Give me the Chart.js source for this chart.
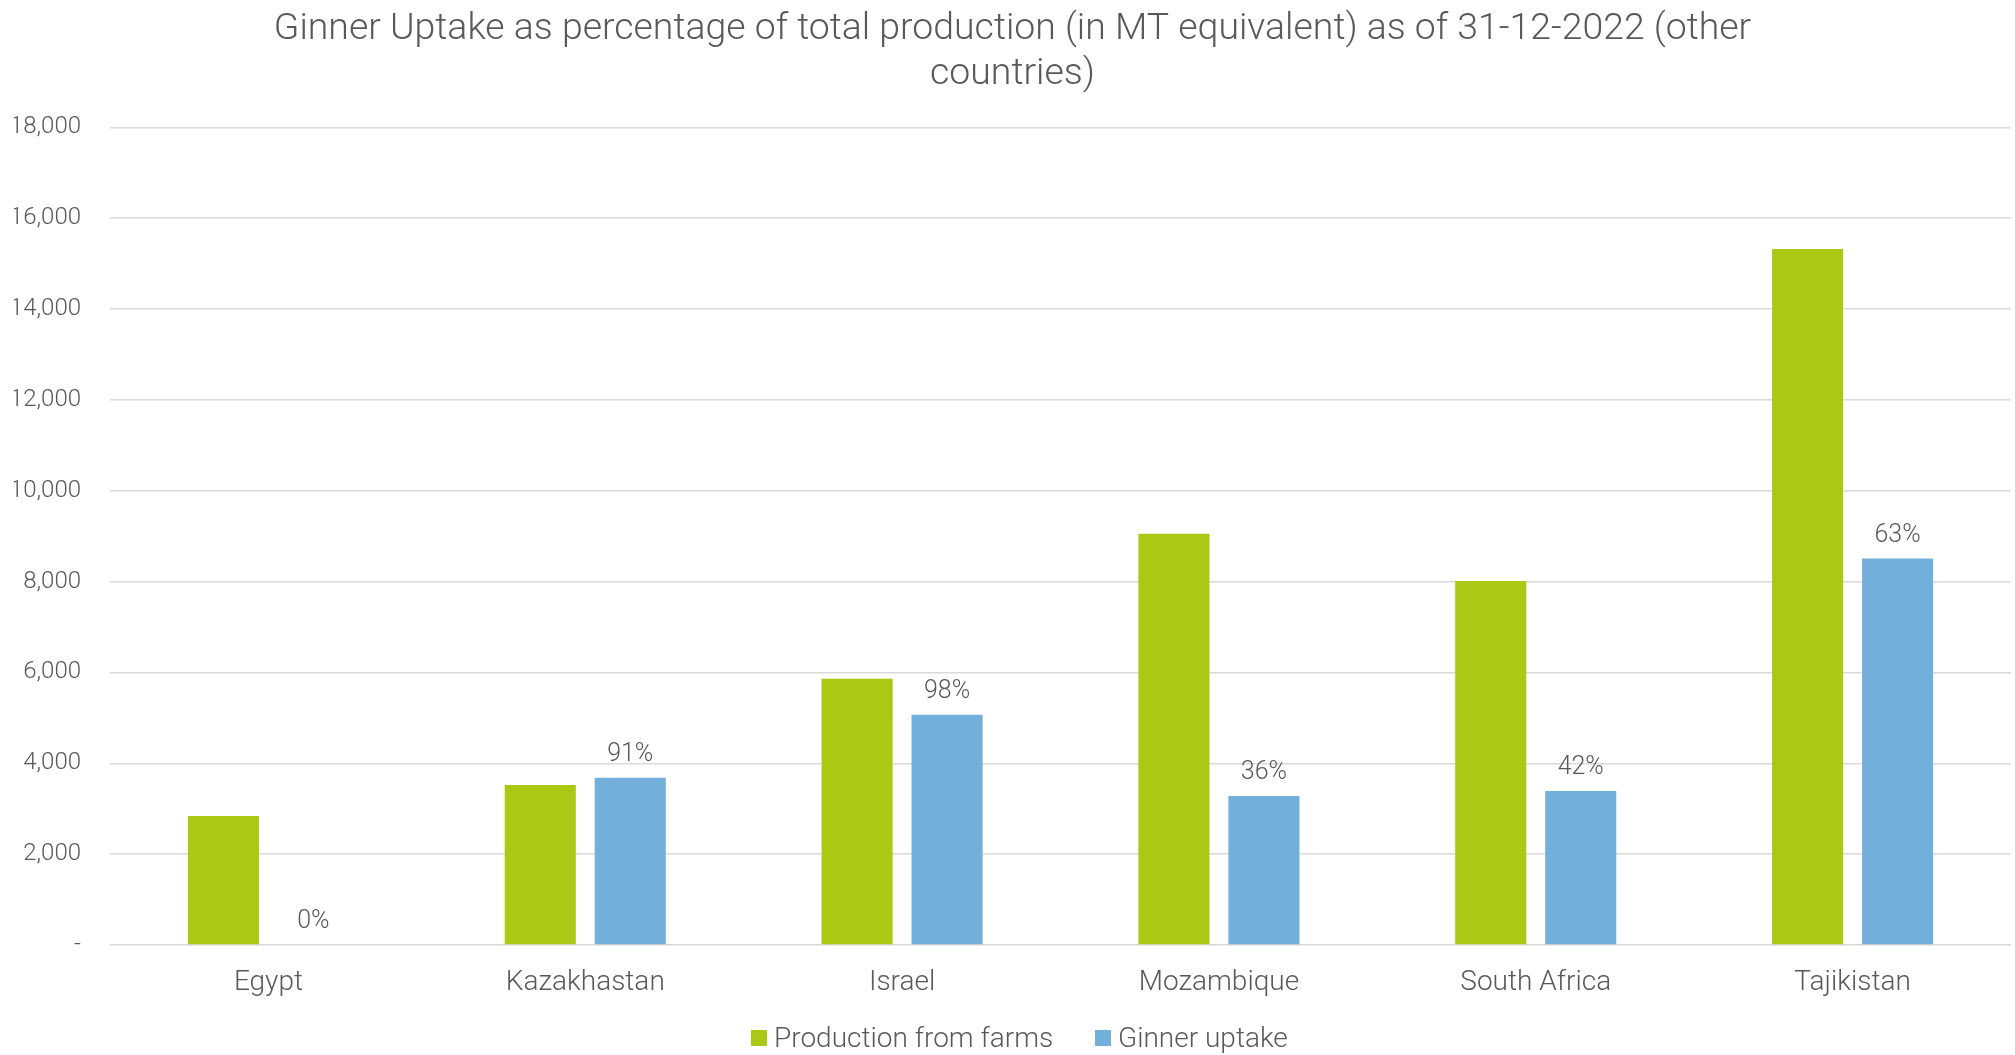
<!DOCTYPE html>
<html><head><meta charset="utf-8">
<script src="https://cdn.jsdelivr.net/npm/chart.js@4"></script>
<style>
html,body{margin:0;padding:0;background:#fff}
#wrap{width:2015px;height:1055px;position:relative}
.lg{position:absolute;top:1024px;height:28px;display:flex;align-items:center;font-family:Roboto,sans-serif;font-weight:300;font-size:28px;line-height:1;color:#595959;white-space:nowrap}
.lg i{display:inline-block;width:16px;height:16px;margin-right:7px}
</style>
</head><body><div id="wrap"><canvas id="c"></canvas><div id="legend"></div></div>
<script>
const categories = ["Egypt", "Kazakhastan", "Israel", "Mozambique", "South Africa", "Tajikistan"];
const productionFromFarms = [2840, 3520, 5860, 9050, 8010, 15320];
const ginnerUptake = [0, 3680, 5070, 3280, 3390, 8510];
const uptakeLabels = ["0%", "91%", "98%", "36%", "42%", "63%"];
const seriesNames = ["Production from farms", "Ginner uptake"];
const seriesColors = ["#aac814", "#73afdb"];
const yMax = 18000;
const yStep = 2000;
const titleLines = ["Ginner Uptake as percentage of total production (in MT equivalent) as of 31-12-2022 (other", "countries)"];

const TXT = '#595959';
const FONT = 'Roboto';

const pctLabelPlugin = {
  id: 'pctLabels',
  afterDatasetsDraw(chart) {
    const meta = chart.getDatasetMeta(1);
    const ctx = chart.ctx;
    ctx.save();
    ctx.font = '300 25px ' + FONT;
    ctx.fillStyle = TXT;
    ctx.textAlign = 'center';
    ctx.textBaseline = 'middle';
    meta.data.forEach((bar, i) => {
      ctx.fillText(uptakeLabels[i], bar.x, bar.y - 23);
    });
    ctx.restore();
  }
};

const chart = new Chart(document.getElementById('c'), {
  type: 'bar',
  data: {
    labels: categories,
    datasets: [
      { label: seriesNames[0], data: productionFromFarms, backgroundColor: seriesColors[0],
        categoryPercentage: 0.568, barPercentage: 0.79 },
      { label: seriesNames[1], data: ginnerUptake, backgroundColor: seriesColors[1],
        categoryPercentage: 0.568, barPercentage: 0.79 }
    ]
  },
  plugins: [pctLabelPlugin],
  options: {
    responsive: true,
    maintainAspectRatio: false,
    animation: false,
    layout: { padding: { left: 14, right: 4, top: 0, bottom: 40 } },
    plugins: {
      title: {
        display: true,
        text: titleLines,
        color: TXT,
        font: { family: FONT, size: 37.4, weight: '300', lineHeight: 1.18 },
        padding: { top: 8, bottom: 31 }
      },
      legend: { display: false },
      tooltip: { enabled: false }
    },
    scales: {
      x: {
        afterFit(s) { s.height = 70; },
        grid: { display: false, drawTicks: false },
        border: { display: false },
        ticks: { color: TXT, font: { family: FONT, size: 28, weight: '300' }, padding: 21 }
      },
      y: {
        min: 0, max: yMax,
        afterFit(s) { s.width = 96; },
        grid: { color: '#d9d9d9', lineWidth: 1.5, drawTicks: false },
        border: { display: false },
        ticks: {
          stepSize: yStep,
          color: TXT,
          padding: 29,
          font: { family: FONT, size: 24, weight: '300' },
          callback: v => v === 0 ? '-' : v.toLocaleString('en-US')
        }
      }
    }
  }
});

// HTML legend built from the chart's datasets
const legendLefts = [751, 1095];
const legendEl = document.getElementById('legend');
chart.data.datasets.forEach((ds, i) => {
  const item = document.createElement('div');
  item.className = 'lg';
  item.style.left = legendLefts[i] + 'px';
  const sw = document.createElement('i');
  sw.style.background = ds.backgroundColor;
  item.appendChild(sw);
  item.appendChild(document.createTextNode(ds.label));
  legendEl.appendChild(item);
});
</script></body></html>
